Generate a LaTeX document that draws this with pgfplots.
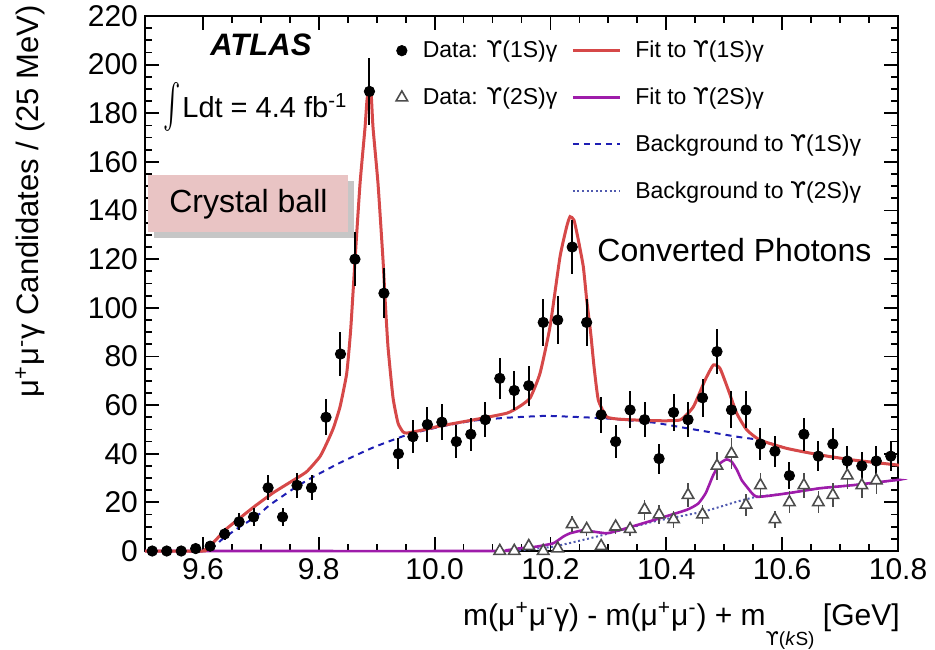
\documentclass[border=0pt]{standalone}
\usepackage{fontspec}
\setmainfont{Liberation Sans}
\newfontfamily\dejavu{DejaVu Sans}
\newcommand{\Ups}{{\dejavu ϒ}}
\usepackage{pgfplots}
\pgfplotsset{compat=1.18}
\usepackage{pgfplotstable}
\usetikzlibrary{shadows}

\definecolor{fitred}{RGB}{214,72,72}
\definecolor{fitpurple}{RGB}{158,28,170}
\definecolor{bkgblue}{RGB}{30,30,180}
\definecolor{bkgdot}{RGB}{80,90,175}
\definecolor{cbpink}{RGB}{233,196,196}

\pgfplotsset{
  longline/.style={legend image code/.code={\draw[##1] (0pt,0pt) -- (23.5pt,0pt);}},
  markimg/.style={legend image code/.code={\path[draw=none,fill=none] (0pt,0pt) (12pt,0pt); \draw[##1] plot coordinates {(8.5pt,0pt)};}},
}

\pgfplotstableread{
x y e
9.5125 0 0
9.5375 0 0
9.5625 0 0
9.5875 1 1
9.6125 2 1.4
9.6375 7 2.6
9.6625 12 3.5
9.6875 14 3.7
9.7125 26 5.1
9.7375 14 3.7
9.7625 27 5.2
9.7875 26 5.1
9.8125 55 7.4
9.8375 81 9
9.8625 120 11
9.8875 189 13.7
9.9125 106 10.3
9.9375 40 6.3
9.9625 47 6.9
9.9875 52 7.2
10.0125 53 7.3
10.0375 45 6.7
10.0625 48 6.9
10.0875 54 7.3
10.1125 71 8.4
10.1375 66 8.1
10.1625 68 8.2
10.1875 94 9.7
10.2125 95 9.7
10.2375 125 11.2
10.2625 94 9.7
10.2875 56 7.5
10.3125 45 6.7
10.3375 58 7.6
10.3625 54 7.3
10.3875 38 6.2
10.4125 57 7.5
10.4375 54 7.3
10.4625 63 7.9
10.4875 82 9.1
10.5125 58 7.6
10.5375 58 7.6
10.5625 44 6.6
10.5875 41 6.4
10.6125 31 5.6
10.6375 48 6.9
10.6625 39 6.2
10.6875 44 6.6
10.7125 37 6.1
10.7375 35 5.9
10.7625 37 6.1
10.7875 39 6.2
}\dataA

\pgfplotstableread{
x y e
10.1125 0 0
10.1375 0 0
10.1625 2 1.4
10.1875 0 0
10.2125 1 1
10.2375 11 3.3
10.2625 9 3
10.2875 2 1.4
10.3125 10 3.2
10.3375 9 3
10.3625 17 4.1
10.3875 15 3.9
10.4125 13 3.6
10.4375 23 4.8
10.4625 15 3.9
10.4875 35 5.9
10.5125 40 6.3
10.5375 19 4.4
10.5625 27 5.2
10.5875 13 3.6
10.6125 20 4.5
10.6375 27 5.2
10.6625 20 4.5
10.6875 23 4.8
10.7125 31 5.6
10.7375 27 5.2
10.7625 29 5.4
}\dataB

\begin{document}
\begin{tikzpicture}
\path[use as bounding box] (-72.5pt,-49pt) rectangle (395pt,275.5pt);
\begin{axis}[
  at={(0pt,0pt)}, anchor=south west,
  scale only axis, width=376.5pt, height=267.5pt,
  xmin=9.5, xmax=10.8, ymin=0, ymax=220,
  xtick={9.6,9.8,10.0,10.2,10.4,10.6,10.8},
  ytick={0,20,40,60,80,100,120,140,160,180,200,220},
  minor x tick num=3, minor y tick num=3,
  major tick length=7pt, minor tick length=3.5pt,
  tick style={black, line width=0.9pt},
  axis line style={line width=1pt},
  /pgf/number format/assume math mode=true,
  tick label style={font=\fontsize{15}{18}\selectfont},
  xticklabel style={/pgf/number format/.cd, fixed, fixed zerofill, precision=1, assume math mode=true},
  yticklabel style={/pgf/number format/.cd, fixed, precision=0, assume math mode=true},
  clip=false,
  legend columns=2,
  legend cell align=left,
  legend style={at={(axis description cs:0.318,0.962)}, anchor=north west,
    draw=none, fill=none, inner sep=0pt,
    font=\fontsize{11.5}{13.5}\selectfont,
    row sep=9.5pt,
    /tikz/every odd column/.append style={column sep=5pt},
    /tikz/every even column/.append style={column sep=5pt}},
]
\addlegendimage{only marks, mark=*, mark size=2.6pt, black, markimg}
\addlegendentry{Data: \Ups(1S)γ}
\addlegendimage{fitred, line width=1.5pt, longline}
\addlegendentry{Fit to \Ups(1S)γ}
\addlegendimage{only marks, mark=triangle*, mark size=3.3pt, mark options={fill=white, draw=black!70, line width=0.8pt}, markimg}
\addlegendentry{Data: \Ups(2S)γ}
\addlegendimage{fitpurple, line width=1.3pt, longline}
\addlegendentry{Fit to \Ups(2S)γ}
\addlegendimage{empty legend}
\addlegendentry{}
\addlegendimage{bkgblue, line width=1pt, dash pattern=on 3pt off 2.5pt, longline}
\addlegendentry{Background to \Ups(1S)γ}
\addlegendimage{empty legend}
\addlegendentry{}
\addlegendimage{bkgdot, line width=1pt, dash pattern=on 1pt off 1.3pt, longline}
\addlegendentry{Background to \Ups(2S)γ}

% Background to 2S (dotted)
\addplot[forget plot, bkgdot, line width=1pt, dash pattern=on 1pt off 1.3pt, smooth, tension=0.3] coordinates {
(10.13,0)(10.16,0.6)(10.205,1.8)(10.25,4.2)(10.291,6.6)(10.378,12.1)(10.464,16.2)(10.522,20.3)(10.556,22.3)(10.608,23.7)(10.665,25.8)(10.723,27.1)(10.798,29.2)(10.8,29.2)};
% Background to 1S (dashed)
\addplot[forget plot, bkgblue, line width=1pt, dash pattern=on 3pt off 2.5pt, smooth, tension=0.3] coordinates {
(9.5,0)(9.604,0)(9.6352,5.2)(9.664,10)(9.6928,14.3)(9.7158,19)(9.7619,26.5)(9.7906,30.5)(9.8367,36.3)(9.8942,42.6)(9.9518,47.7)(10.0093,51.1)(10.0668,53.6)(10.1245,54.8)(10.182,55.5)(10.205,55.5)(10.291,54.6)(10.378,52.8)(10.435,50.5)(10.522,47)(10.562,45.6)(10.6079,42.2)(10.6654,39.5)(10.7229,37.4)(10.7978,35.4)(10.8,35.3)};
% Fit to 2S (purple)
\addplot[forget plot, fitpurple, line width=1.3pt, smooth, tension=0.3] coordinates {
(9.5,0)(10.10,0)(10.13,0.5)(10.147,1.1)(10.176,1.8)(10.205,3.2)(10.222,5.9)(10.234,7.3)(10.257,8.6)(10.268,8.2)(10.297,7.3)(10.32,8.6)(10.378,12.7)(10.435,16.9)(10.455,19.5)(10.468,23.8)(10.481,31.2)(10.4927,36)(10.504,37.7)(10.513,36.7)(10.522,33.3)(10.53,29.2)(10.539,26.4)(10.556,22.3)(10.608,23.7)(10.665,25.8)(10.723,27.1)(10.798,29.2)(10.8,29.2)};
% Fit to 1S (red)
\addplot[forget plot, fitred, line width=1.5pt, smooth, tension=0.3] coordinates {
(9.5,0)(9.6,0)(9.6036,0.5)(9.62,4)(9.64,9)(9.664,13.6)(9.69,18.5)(9.721,23.9)(9.75,28.2)(9.779,32.6)(9.802,38.8)(9.8137,44.3)(9.825,50.4)(9.8367,59.3)(9.8482,73)(9.8551,91)(9.8626,119.7)(9.8712,151)(9.8798,174)(9.8835,186)(9.888,190)(9.8905,188)(9.8937,174)(9.9023,151)(9.9109,119.7)(9.9144,104)(9.9195,84)(9.9282,63)(9.9368,52.6)(9.9454,49)(9.9522,48.5)(9.98,49.8)(10.0093,51.4)(10.0663,53.9)(10.125,56.7)(10.147,59.5)(10.165,63)(10.182,73.1)(10.1992,92.2)(10.2165,121)(10.228,133.4)(10.2338,137.5)(10.2407,136)(10.2481,127.9)(10.2567,116.9)(10.2626,103.2)(10.2695,89.5)(10.2752,75.8)(10.2826,62.1)(10.2971,55.2)(10.32,54.2)(10.3776,53.6)(10.4237,53.9)(10.4467,59.3)(10.4669,70.3)(10.4812,76.5)(10.4927,75.1)(10.5071,66.2)(10.5216,56.6)(10.5389,49.8)(10.5618,45.6)(10.6079,42.2)(10.6654,39.5)(10.7229,37.4)(10.7978,35.4)(10.8,35.3)};

% Data 2S
\addplot[forget plot, only marks, mark=triangle*, mark size=3.3pt, mark options={fill=white, draw=black!70, line width=0.8pt},
  error bars/.cd, y dir=both, y explicit, error mark=none, error bar style={line width=0.7pt, black!70}]
  table[x=x, y=y, y error=e] {\dataB};
% Data 1S
\addplot[forget plot, only marks, mark=*, mark size=2.6pt, black,
  error bars/.cd, y dir=both, y explicit, error mark=none, error bar style={line width=1pt, black}]
  table[x=x, y=y, y error=e] {\dataA};
\end{axis}

% labels
\node[rotate=90, anchor=east, font=\fontsize{15.5}{18}\selectfont, inner sep=0pt] at (-57.5pt,273pt)
  {μ\textsuperscript{+}μ\textsuperscript{-}γ Candidates / (25 MeV)};
\node[anchor=base east, font=\fontsize{15}{18}\selectfont, inner sep=0pt] at (377.5pt,-37pt)
  {m(μ\textsuperscript{+}μ\textsuperscript{-}γ) - m(μ\textsuperscript{+}μ\textsuperscript{-}) + m\raisebox{-10pt}{\fontsize{9.5}{11}\selectfont \Ups(\textit{k}S)} [GeV]};

% annotations
\node[anchor=west, font=\fontsize{15.5}{18}\selectfont\bfseries\itshape, inner sep=0pt] at (32.5pt,253pt) {ATLAS};
\node[anchor=center, inner sep=0pt, yscale=2.2, xscale=1.3] at (13.5pt,222pt) {$\int$};
\node[anchor=base west, font=\fontsize{14.5}{17}\selectfont, inner sep=0pt] at (18.5pt,216.5pt) {Ldt = 4.4 fb\textsuperscript{-1}};
\node[anchor=west, font=\fontsize{16}{19}\selectfont, inner sep=0pt] at (226pt,150.5pt) {Converted Photons};
\node[fill=cbpink, drop shadow={opacity=0.45, shadow xshift=3pt, shadow yshift=-3pt},
  minimum width=100pt, minimum height=28.5pt, anchor=north west, inner sep=0pt,
  font=\fontsize{16}{19}\selectfont] at (1.5pt,188pt) {Crystal ball};
\end{tikzpicture}
\end{document}
